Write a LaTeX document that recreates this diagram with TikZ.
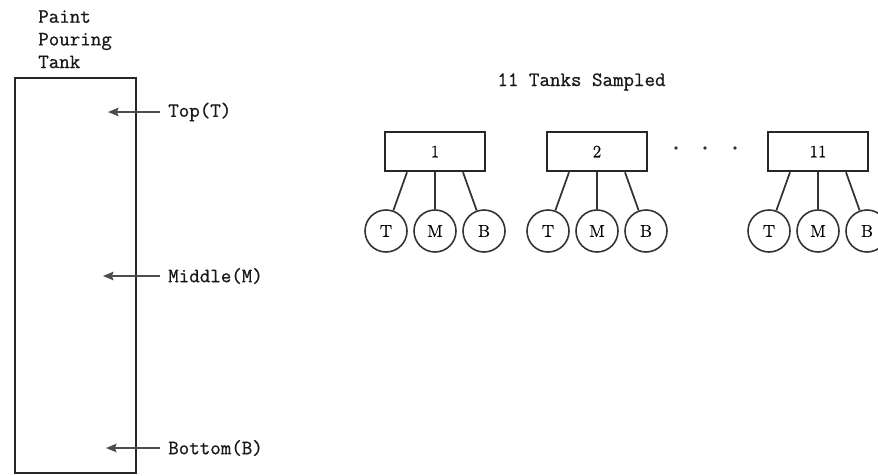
\documentclass[tikz,border=0pt]{standalone}
\usepackage{fontspec}
\usetikzlibrary{arrows.meta}
\newfontfamily\twfont{Latin Modern Mono}[FakeBold=0.8]
\newfontfamily\lblfont{Latin Modern Roman}[FakeBold=0.5]
\begin{document}
\begin{tikzpicture}[x=0.75pt,y=-0.75pt,
  tw/.style={font=\fontsize{15.3}{17}\twfont, text=black!90, inner sep=0pt},
  tank/.style={draw=black!85, line width=2pt},
  pointer/.style={draw=black!70, line width=1.2pt,
    -{Stealth[length=8pt,width=6.5pt,inset=1.5pt]}},
  tankbox/.style={draw=black!85, line width=1.9pt, minimum width=75pt,
    minimum height=29.25pt, inner sep=0pt, font=\fontsize{13}{15}\lblfont},
  sample/.style={circle, draw=black!80, line width=1.2pt, minimum size=31.5pt,
    inner sep=0pt, font=\fontsize{13}{15}\lblfont},
  link/.style={draw=black!80, line width=1.3pt}]
\useasboundingbox (0,0) rectangle (878,475);

% the pouring tank with its three sampling levels
\node[tw, anchor=north west, align=left] (title) at (38,10) {Paint\\Pouring\\Tank};
\draw[tank] (15,78) rectangle (136,473);

\node[tw, anchor=west] (ltop) at (168,112) {Top(T)};
\node[tw, anchor=west] (lmid) at (168,276) {Middle(M)};
\node[tw, anchor=west] (lbot) at (168,448) {Bottom(B)};
\coordinate (ptop) at (108,112);
\coordinate (pmid) at (103,276);
\coordinate (pbot) at (106,448);
\draw[pointer] ([xshift=-6pt]ltop.west) -- (ptop);
\draw[pointer] ([xshift=-6pt]lmid.west) -- (pmid);
\draw[pointer] ([xshift=-6pt]lbot.west) -- (pbot);

% the sampled tanks, each with top, middle and bottom samples
\node[tw, anchor=base] (sampled) at (581.5,86) {11 Tanks Sampled};
\foreach \n/\x in {1/435, 2/597, 11/818} {
  \node[tankbox] (box\n) at (\x,151.5) {\n};
  \node[sample] (t\n) at (\x-49,231) {T};
  \node[sample] (m\n) at (\x,231) {M};
  \node[sample] (b\n) at (\x+49,231) {B};
  \draw[link] ([xshift=-21pt]box\n.south) -- (t\n);
  \draw[link] (box\n.south) -- (m\n.north);
  \draw[link] ([xshift=21pt]box\n.south) -- (b\n);
}
\foreach \x in {676,705,735} \fill[black!80] (\x,148) circle (1.8);
\end{tikzpicture}
\end{document}
